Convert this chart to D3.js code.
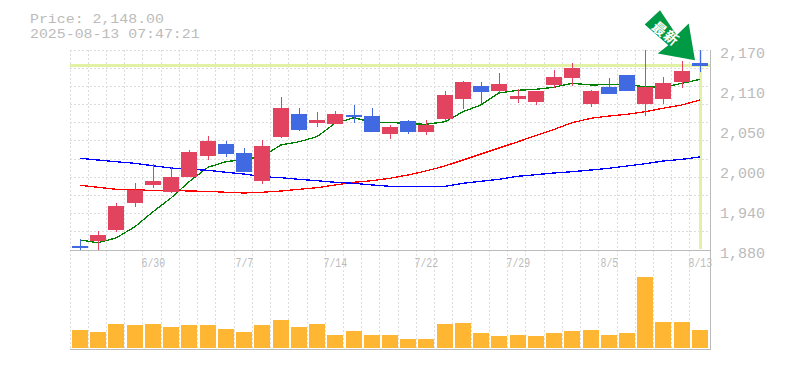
<!DOCTYPE html>
<html><head><meta charset="utf-8">
<script src="https://cdn.jsdelivr.net/npm/d3@7"></script>
<style>html,body{margin:0;padding:0;background:#fff;overflow:hidden}svg{display:block}
text{font-family:"Liberation Mono",monospace;fill:#bbb}</style></head><body>
<script>
const dates=["6/24","6/25","6/26","6/27","6/30","7/1","7/2","7/3","7/4","7/7","7/8","7/9","7/10","7/11","7/14","7/15","7/16","7/17","7/18","7/22","7/23","7/24","7/25","7/28","7/29","7/30","7/31","8/1","8/4","8/5","8/6","8/7","8/8","8/12","8/13"];
const tickDates=["6/30","7/7","7/14","7/22","7/29","8/5","8/13"];
const openPrice=[1886,1893,1909,1948,1974,1964,1986,2016,2034,2021,1980,2044,2077,2064,2063,2076,2074,2048,2067,2051,2070,2099,2118,2111,2099,2095,2119,2130,2092,2116,2134,2092,2099,2124,2151];
const highPrice=[1896,1908,1948,1977,2005,2000,2025,2045,2038,2028,2040,2102,2086,2080,2082,2090,2086,2061,2068,2068,2110,2125,2124,2137,2114,2111,2141,2151,2112,2129,2134,2170,2131,2154,2170];
const lowPrice=[1880,1880,1906,1942,1970,1963,1986,2010,2015,1993,1976,2042,2053,2058,2063,2064,2051,2041,2048,2047,2067,2084,2092,2108,2093,2090,2115,2118,2087,2106,2111,2074,2092,2115,2138];
const closePrice=[1883,1902,1944,1967,1980,1986,2022,2038,2019,1993,2031,2086,2054,2068,2077,2073,2051,2058,2051,2061,2105,2124,2109,2121,2103,2111,2131,2144,2111,2106,2111,2116,2122,2140,2147];
const maShort=[1894.5,1890.6,1897.4,1913.8,1935.5,1955.4,1979,2000,2008,2011.5,2015.3,2032.3,2037,2044.3,2063.7,2071.8,2065.2,2065.2,2063.1,2062.3,2066,2080.5,2090.3,2107.7,2111.6,2113,2116,2121.7,2119.3,2119.7,2119.7,2116.8,2116,2121.7,2127.5];
const maMid=[1973.8,1970.9,1968,1967,1966.6,1966.6,1965.5,1965.1,1963.7,1962.7,1963.7,1965.5,1968,1970.3,1974.3,1978.2,1980.5,1984,1988.8,1994.6,2001.8,2010.5,2019.2,2027.9,2037,2046,2054.7,2064.6,2071,2074.3,2076.8,2080.5,2085.5,2090.3,2097.5];
const maLong=[2013,2010.5,2008,2005.7,2002.2,1998.9,1997,1995.6,1992.7,1990.2,1986.3,1984.8,1982.5,1980.5,1978.2,1976.7,1974.3,1972.4,1972.4,1972.4,1972.4,1976.7,1979.6,1982.5,1986.9,1989.2,1991.7,1993.5,1996,1998.5,2001.8,2005.1,2009,2011.5,2014.9];
const volume=[1800,1600,2400,2300,2400,2100,2300,2300,1900,1600,2300,2800,2100,2400,1300,1700,1300,1300,900,900,2400,2500,1500,1200,1300,1200,1500,1700,1800,1300,1500,7100,2600,2600,1800];
const priceTickValues=[2170,2112,2054,1996,1938,1880];
const priceTickLabels=["2,170","2,110","2,050","2,000","1,940","1,880"];
const lastPrice=2148;
const headerLines=["Price: 2,148.00","2025-08-13 07:47:21"];
const arrowLabel=["最","新"];

const colors={up:"#e2445f",down:"#4169e1",grid:"#dcdcdc",axis:"#bbb",lime:"#e2f2a4",vol:"#ffb733",arrow:"#009944"};
const svg=d3.select("body").append("svg").attr("width",785).attr("height",370);
const plotLeft=70,plotRight=710,plotTop=50,plotMid=250,plotBottom=350;
const x=d3.scaleBand().domain(dates).range([70,708.2]);
const barLeft=d=>Math.round(x(d)+2);
const cx=d=>barLeft(d)+8;
const y=d3.scaleLinear().domain([1880,2170]).range([plotMid,plotTop]);
const yv=d3.scaleLinear().domain([0,9800]).range([348,250]);
const crisp=s=>s.attr("shape-rendering","crispEdges");

// grid
const gridPrices=d3.range(0,11).map(i=>2170-i*290/11);
crisp(svg.append("g").selectAll("line").data(gridPrices).join("line")
 .attr("x1",plotLeft).attr("x2",plotRight).attr("y1",d=>Math.floor(y(d))+.5).attr("y2",d=>Math.floor(y(d))+.5))
 .attr("stroke",colors.grid).attr("stroke-dasharray","2,2");
crisp(svg.append("g").selectAll("line").data(dates).join("line")
 .attr("x1",d=>Math.floor(x(d))+.5).attr("x2",d=>Math.floor(x(d))+.5).attr("y1",plotTop).attr("y2",plotBottom))
 .attr("stroke",colors.grid).attr("stroke-dasharray","2,2");

// last-price cross
crisp(svg.append("rect").attr("x",plotLeft).attr("width",plotRight-plotLeft).attr("y",Math.round(y(lastPrice))-1).attr("height",3)).attr("fill",colors.lime);
crisp(svg.append("rect").attr("x",cx(dates[34])-1).attr("width",3).attr("y",plotTop).attr("height",plotMid-plotTop-1)).attr("fill",colors.lime);

// volume
crisp(svg.append("g").selectAll("rect").data(dates).join("rect")
 .attr("x",barLeft).attr("width",16).attr("y",(d,i)=>yv(volume[i])).attr("height",(d,i)=>yv(0)-yv(volume[i])))
 .attr("fill",colors.vol);

// frame
const frame=svg.append("g").attr("stroke",colors.axis).attr("stroke-width",1.5).attr("shape-rendering","crispEdges");
frame.append("line").attr("x1",plotLeft).attr("x2",plotRight).attr("y1",plotMid+.5).attr("y2",plotMid+.5);
frame.append("line").attr("x1",plotLeft).attr("x2",plotRight+1).attr("y1",plotBottom-.5).attr("y2",plotBottom-.5);
frame.append("line").attr("x1",plotRight+.5).attr("x2",plotRight+.5).attr("y1",plotTop).attr("y2",plotBottom);

// moving averages
const line=d3.line().x((d,i)=>cx(dates[i])).y(d=>y(d));
[[maShort,"#008000"],[maMid,"#ff0000"],[maLong,"#0000ff"]].forEach(([s,c])=>{
 svg.append("path").attr("d",line(s)).attr("fill","none").attr("stroke",c).attr("stroke-width",1.3).attr("shape-rendering","crispEdges");
});

// candles
const candle=svg.append("g").selectAll("g").data(dates).join("g")
 .attr("fill",(d,i)=>closePrice[i]>=openPrice[i]?colors.up:colors.down);
crisp(candle.append("rect").attr("x",cx).attr("width",1).attr("y",(d,i)=>Math.round(y(highPrice[i]))).attr("height",(d,i)=>Math.round(y(lowPrice[i]))-Math.round(y(highPrice[i]))));
crisp(candle.append("rect").attr("x",barLeft).attr("width",16)
 .attr("y",(d,i)=>Math.round(y(Math.max(openPrice[i],closePrice[i]))))
 .attr("height",(d,i)=>Math.max(1,Math.round(y(Math.min(openPrice[i],closePrice[i])))-Math.round(y(Math.max(openPrice[i],closePrice[i]))))));

// text
svg.selectAll("text.h").data(headerLines).join("text").attr("class","h").attr("x",30).attr("y",(d,i)=>22.5+15*i).attr("font-size",13)
 .attr("textLength",d=>d.length*8.93).attr("lengthAdjust","spacingAndGlyphs").text(d=>d);
svg.selectAll("text.p").data(priceTickValues).join("text").attr("class","p").attr("x",720).attr("y",d=>y(d)+7.5).attr("font-size",15).text((d,i)=>priceTickLabels[i]);
svg.selectAll("text.d").data(tickDates).join("text").attr("class","d")
 .attr("x",d=>cx(d)-d.length*3+.5).attr("y",266.5).attr("font-size",12)
 .attr("textLength",d=>d.length*5.9).attr("lengthAdjust","spacingAndGlyphs").text(d=>d);

// arrow pointing at the last price
const ax=cx(dates[34])-5, ay=y(lastPrice)-5;
const arrowShape=[[-35,-50],[-50.3,-35.7],[-26.7,-15],[-37.3,-6.7],[0,0],[-6.3,-36.7],[-18.3,-25]];
svg.append("polygon").attr("points",arrowShape.map(p=>[ax+p[0],ay+p[1]].join(",")).join(" ")).attr("fill",colors.arrow);
svg.selectAll("text.a").data(arrowLabel).join("text").attr("class","a")
 .attr("transform",(d,i)=>`translate(${ax-35+i*11.7},${ay-32+i*9}) rotate(40)`)
 .attr("text-anchor","middle").attr("dominant-baseline","central")
 .style("font-family","'Noto Sans CJK JP'").style("fill","#fff").style("font-weight",700).attr("font-size",14).text(d=>d);
</script></body></html>
